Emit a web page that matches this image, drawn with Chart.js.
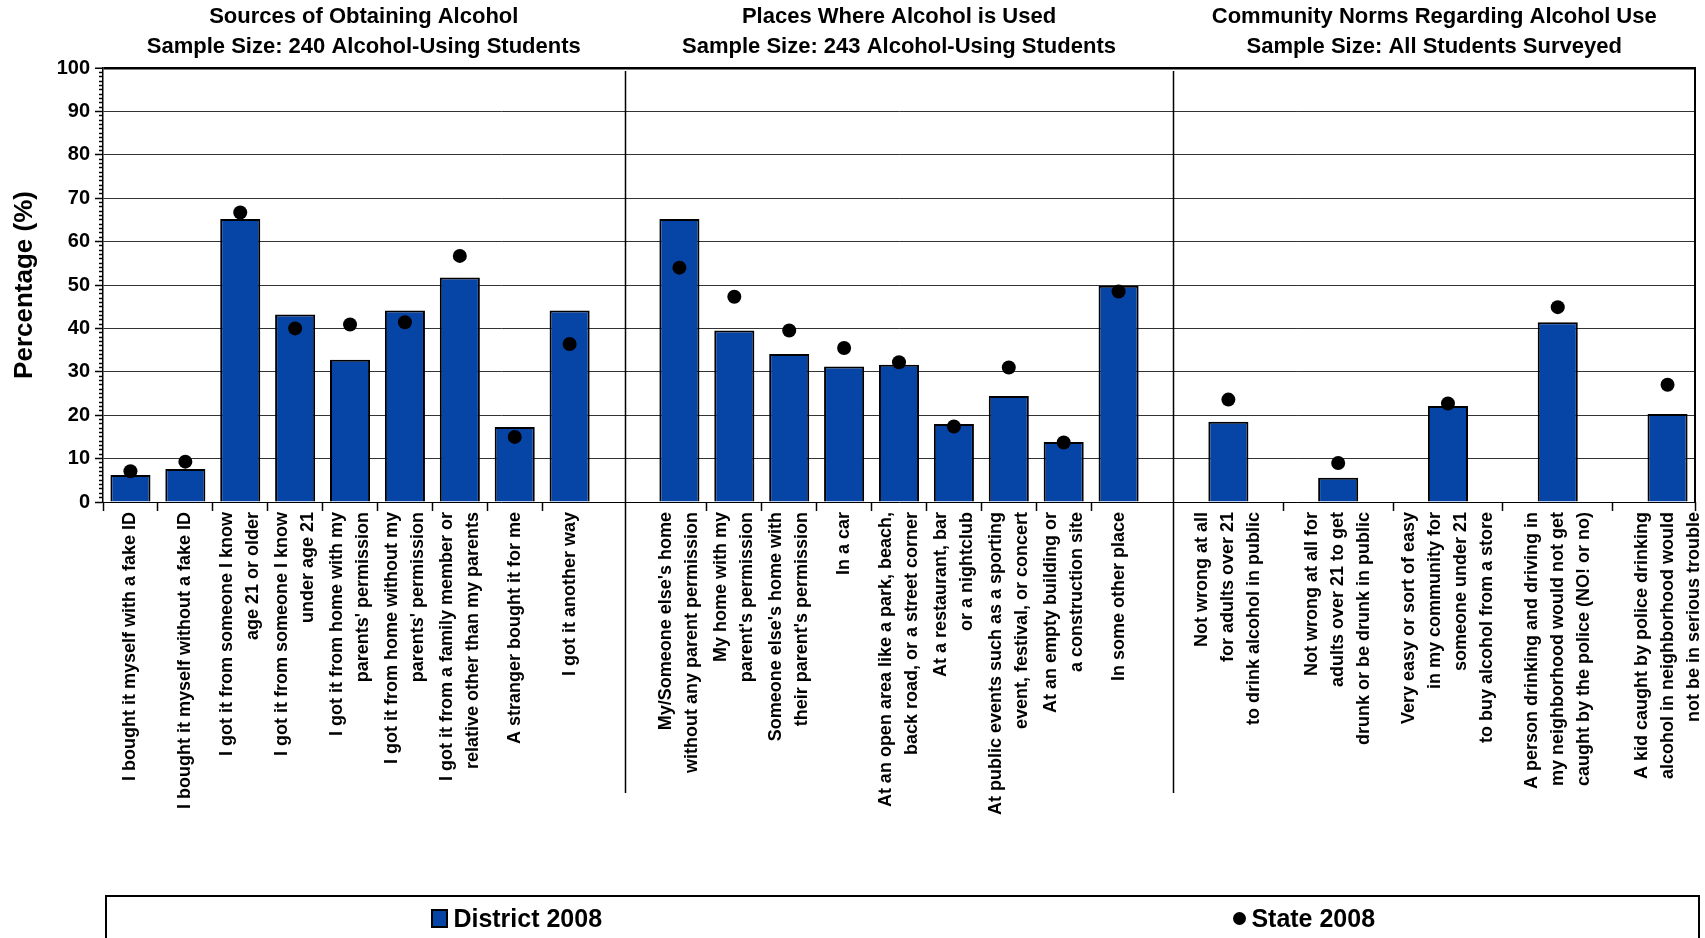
<!DOCTYPE html>
<html>
<head>
<meta charset="utf-8">
<script src="https://cdn.jsdelivr.net/npm/chart.js@4.4.1/dist/chart.umd.min.js"></script>
<style>
  body { margin: 0; overflow: hidden; background: #fff; }
  #wrap { position: relative; width: 1705px; height: 938px; }
  #legend {
    position: absolute; left: 105px; top: 895px; width: 1595px; height: 80px; padding-left: 16px;
    box-sizing: border-box; border: 2px solid #000; display: flex; align-items: flex-start;
    font-family: "Liberation Sans", Arial, sans-serif; font-weight: bold; font-size: 25px; color: #000;
  }
  #legend .item { flex: 1; height: 42px; display: flex; align-items: center; justify-content: center; }
  #legend .mark { display: inline-block; margin-right: 5px; box-sizing: border-box; }
</style>
</head>
<body>
<div id="wrap">
  <canvas id="chart" width="1705" height="938"></canvas>
  <div id="legend"></div>
</div>
<script>
// Sources of obtaining alcohol
const sourceLabels = [
    "I bought it myself with a fake ID",
    "I bought it myself without a fake ID",
    ["I got it from someone I know", "age 21 or older"],
    ["I got it from someone I know", "under age 21"],
    ["I got it from home with my", "parents' permission"],
    ["I got it from home without my", "parents' permission"],
    ["I got it from a family member or", "relative other than my parents"],
    "A stranger bought it for me",
    "I got it another way",
];
const sourceDistrict = [6.2, 7.6, 65.2, 43.2, 32.8, 44.1, 51.7, 17.3, 44.1];
const sourceState = [7.1, 9.3, 66.7, 40.0, 40.9, 41.4, 56.7, 15.0, 36.4];

// Places where alcohol is used
const placeLabels = [
    ["My/Someone else's home", "without any parent permission"],
    ["My home with my", "parent's permission"],
    ["Someone else's home with", "their parent's permission"],
    "In a car",
    ["At an open area like a park, beach,", "back road, or a street corner"],
    ["At a restaurant, bar", "or a nightclub"],
    ["At public events such as a sporting", "event, festival, or concert"],
    ["At an empty building or", "a construction site"],
    "In some other place",
];
const placeDistrict = [65.2, 39.5, 34.1, 31.2, 31.6, 18.0, 24.4, 13.8, 49.8];
const placeState = [54.0, 47.3, 39.5, 35.5, 32.2, 17.4, 31.0, 13.7, 48.5];

// Community norms
const normLabels = [
    ["Not wrong at all", "for adults over 21", "to drink alcohol in public"],
    ["Not wrong at all for", "adults over 21 to get", "drunk or be drunk in public"],
    ["Very easy or sort of easy", "in my community for", "someone under 21", "to buy alcohol from a store"],
    ["A person drinking and driving in", "my neighborhood would not get", "caught by the police (NO! or no)"],
    ["A kid caught by police drinking", "alcohol in neighborhood would", "not be in serious trouble"],
];
const normDistrict = [18.5, 5.6, 22.1, 41.4, 20.3];
const normState = [23.6, 9.0, 22.7, 44.9, 27.0];

const groupTitles = [
    ["Sources of Obtaining Alcohol", "Sample Size: 240 Alcohol-Using Students"],
    ["Places Where Alcohol is Used", "Sample Size: 243 Alcohol-Using Students"],
    ["Community Norms Regarding Alcohol Use", "Sample Size: All Students Surveyed"],
];

const seriesNames = ["District 2008", "State 2008"];

// the norms panel puts every category on every other slot
const groups = [
    { labels: sourceLabels, district: sourceDistrict, state: sourceState, step: 1 },
    { labels: placeLabels, district: placeDistrict, state: placeState, step: 1 },
    { labels: normLabels, district: normDistrict, state: normState, step: 2 },
];

const slotLabels = [];
const districtData = [];
const stateData = [];
const barSlots = [];

function pushBlank() {
    slotLabels.push("");
    districtData.push(null);
    stateData.push(null);
}

groups.forEach((g, gi) => {
    if (gi > 0) pushBlank();
    const slots = [];
    g.labels.forEach((lab, i) => {
        if (i > 0) for (let k = 1; k < g.step; k++) pushBlank();
        slots.push(slotLabels.length);
        slotLabels.push(lab);
        districtData.push(g.district[i]);
        stateData.push(g.state[i]);
    });
    barSlots.push(slots);
});

const lastSlot = slotLabels.length - 0.5;

// tick marks between neighbouring bars of a panel, plus the two ends
const tickMarks = [-0.5];
barSlots.forEach((slots) => {
    for (let i = 1; i < slots.length; i++) tickMarks.push((slots[i - 1] + slots[i]) / 2);
});
tickMarks.push(lastSlot);

const dividers = barSlots.slice(1).map((slots, i) => (barSlots[i][barSlots[i].length - 1] + slots[0]) / 2);
const bounds = [-0.5, ...dividers, lastSlot];
const titleCenters = groupTitles.map((t, i) => (bounds[i] + bounds[i + 1]) / 2);

const FONT = "'Liberation Sans', Arial, sans-serif";
Chart.defaults.font.family = FONT;
Chart.defaults.color = "#000";

const BLUE = "#0645A5";
const LABEL_LINE = 26; // px between lines of a category label

// one tick per label line, so every label block sits centred on its bar
let labelLines = [];
function buildLabelTicks(scale) {
    const perSlot = (scale.max - scale.min) / scale.width;
    const items = [];
    slotLabels.forEach((lab, slot) => {
        if (!lab) return;
        const lines = Array.isArray(lab) ? lab : [lab];
        lines.forEach((text, j) => {
            items.push({ value: slot + (j - (lines.length - 1) / 2) * LABEL_LINE * perSlot, text });
        });
    });
    items.sort((a, b) => a.value - b.value);
    labelLines = items.map((it) => it.text);
    scale.ticks = items.map((it) => ({ value: it.value }));
}

const noSidePadding = (s) => { s.paddingLeft = 0; s.paddingRight = 0; };

// vertical lines that split the three panels
const panelDividers = {
    id: "panelDividers",
    afterDatasetsDraw(chart) {
        const { ctx, chartArea, scales } = chart;
        ctx.save();
        ctx.strokeStyle = "#000";
        ctx.lineWidth = 1.5;
        dividers.forEach((v) => {
            const px = Math.round(scales.x.getPixelForValue(v)) + 0.5;
            ctx.beginPath();
            ctx.moveTo(px, chartArea.top + 3);
            ctx.lineTo(px, chartArea.bottom + 291);
            ctx.stroke();
        });
        ctx.restore();
    },
};

const isMajor = (ctx) => ctx.tick && ctx.tick.value % 10 === 0;

const chart = new Chart(document.getElementById("chart"), {
    data: {
        labels: slotLabels,
        datasets: [
            {
                type: "line",
                label: seriesNames[1],
                data: stateData,
                showLine: false,
                pointRadius: 7,
                pointHoverRadius: 7,
                pointBackgroundColor: "#000",
                pointBorderWidth: 0,
                order: 0,
                xAxisID: "x",
                yAxisID: "y",
            },
            {
                type: "bar",
                label: seriesNames[0],
                data: districtData,
                backgroundColor: BLUE,
                borderColor: "#000",
                borderWidth: 2,
                categoryPercentage: 1,
                barPercentage: 0.73,
                order: 1,
                xAxisID: "x",
                yAxisID: "y",
            },
        ],
    },
    options: {
        responsive: false,
        animation: false,
        layout: { padding: { left: 0, right: 10, top: 0, bottom: 0 } },
        plugins: {
            legend: { display: false },
            tooltip: { enabled: false },
        },
        scales: {
            titles: {
                type: "linear",
                position: "top",
                min: -0.5,
                max: lastSlot,
                afterBuildTicks: (s) => { s.ticks = titleCenters.map((v) => ({ value: v })); },
                afterFit: (s) => { s.height = 68; noSidePadding(s); },
                grid: { display: false, drawTicks: false },
                border: { display: false },
                ticks: {
                    autoSkip: false,
                    maxRotation: 0,
                    padding: 6,
                    font: { size: 22, weight: "bold", lineHeight: "30px" },
                    callback: (v, i) => groupTitles[i],
                },
            },
            y: {
                position: "left",
                min: 0,
                max: 100,
                afterFit: (s) => { s.width = 103; },
                ticks: {
                    stepSize: 1,
                    autoSkip: false,
                    padding: 5,
                    font: { size: 20, weight: "bold" },
                    callback: (v) => (v % 10 === 0 ? v : ""),
                },
                grid: {
                    color: (ctx) => (isMajor(ctx) ? (ctx.tick.value === 0 || ctx.tick.value === 100 ? "#000" : "#333") : "rgba(0,0,0,0)"),
                    lineWidth: (ctx) => (ctx.tick && ctx.tick.value === 100 ? 2.5 : 1),
                    tickColor: "#000",
                    tickLength: 8,
                    tickWidth: 1.5,
                    tickBorderDash: (ctx) => (isMajor(ctx) ? [] : [4, 4]),
                    tickBorderDashOffset: (ctx) => (isMajor(ctx) ? 0 : 4),
                },
                border: { color: "#000", width: 1.5 },
                title: {
                    display: true,
                    text: "Percentage (%)",
                    font: { size: 26, weight: "bold" },
                    padding: { top: 9, bottom: 0 },
                },
            },
            frame: {
                type: "linear",
                position: "right",
                min: 0,
                max: 100,
                afterFit: (s) => { s.width = 0; },
                ticks: { display: false },
                grid: { drawOnChartArea: false, drawTicks: false },
                border: { color: "#000", width: 2 },
            },
            marks: {
                type: "linear",
                position: "bottom",
                weight: 0,
                min: -0.5,
                max: lastSlot,
                afterBuildTicks: (s) => { s.ticks = tickMarks.map((v) => ({ value: v })); },
                afterFit: (s) => { s.height = 9; noSidePadding(s); },
                ticks: { display: false },
                grid: { drawOnChartArea: false, tickLength: 9, tickColor: "#000", tickWidth: 1.5 },
                border: { display: false },
            },
            x: {
                type: "category",
                position: "bottom",
                offset: true,
                display: false,
            },
            labels: {
                type: "linear",
                position: "bottom",
                weight: 1,
                min: -0.5,
                max: lastSlot,
                afterBuildTicks: buildLabelTicks,
                afterFit: (s) => { s.height = 938 - 502 - 9; noSidePadding(s); },
                grid: { display: false, drawTicks: false },
                border: { display: false },
                ticks: {
                    autoSkip: false,
                    minRotation: 90,
                    maxRotation: 90,
                    padding: 1,
                    font: { size: 18, weight: "bold", lineHeight: "26px" },
                    callback: (v, i) => labelLines[i],
                },
            },
        },
    },
    plugins: [panelDividers],
});

// legend box under the chart, built from the datasets
const legendEl = document.getElementById("legend");
[1, 0].forEach((di) => {
    const ds = chart.data.datasets[di];
    const item = document.createElement("div");
    item.className = "item";
    const mark = document.createElement("span");
    mark.className = "mark";
    if (ds.type === "bar") {
        mark.style.cssText = `width:17px;height:19px;background:${ds.backgroundColor};border:2px solid #000;`;
    } else {
        mark.style.cssText = `width:13px;height:13px;border-radius:50%;background:${ds.pointBackgroundColor};`;
    }
    item.appendChild(mark);
    item.appendChild(document.createTextNode(ds.label));
    legendEl.appendChild(item);
});
</script>
</body>
</html>
